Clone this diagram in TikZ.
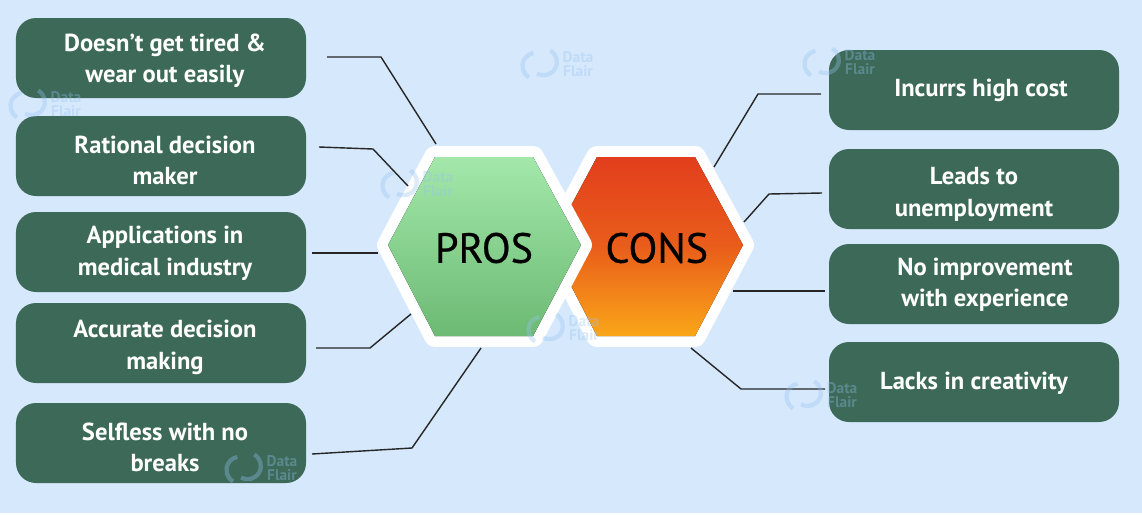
\documentclass[tikz,border=0pt]{standalone}
\usepackage{fontspec}
\setmainfont{PT Sans}
\usetikzlibrary{calc}
\definecolor{softsky}{RGB}{214,232,252}
\definecolor{boxgreen}{RGB}{60,105,88}
\definecolor{prostop}{RGB}{163,232,170}
\definecolor{prosbottom}{RGB}{108,186,116}
\definecolor{constop}{RGB}{226,62,28}
\definecolor{consbottom}{RGB}{250,166,24}
\definecolor{flairblue}{RGB}{150,195,240}
\newcommand{\pad}[2]{\hspace*{#1}\rule{0pt}{#2}}
\tikzset{
    prosbox/.style={
        draw=none,
        rounded corners=0.5cm,
        fill=boxgreen,
        text=white,
        align=center,
        font=\bfseries\fontsize{17.5}{22.5}\selectfont,
        minimum width=7.25cm,
        minimum height=2cm
    },
    hexlabel/.style={
        font=\fontsize{30}{32}\selectfont\addfontfeature{FakeBold=0.5},
        text=black
    },
    link/.style={draw=black!85, line width=1pt, line join=round},
    flairmark/.style={
        text=flairblue,
        opacity=0.35,
        align=center,
        font=\bfseries\fontsize{11}{10}\selectfont
    }
}
\begin{document}
\begin{tikzpicture}

\useasboundingbox[fill=white] (0,0) rectangle (28.55,-12.875);
\fill[softsky] (0,0) rectangle (28.55,-12.83);

% PROS BOXES
\node[prosbox] (tired) at (4.025,-1.45)
{\pad{0.2cm}{0.58cm}Doesn’t get tired \&\\\hspace*{0.2cm}wear out easily};

\node[prosbox] (rational) at (4.025,-3.9)
{\pad{0.2cm}{0.65cm}Rational decision\\\hspace*{0.2cm}maker};

\node[prosbox] (medical) at (4.025,-6.3)
{\pad{0.2cm}{0.51cm}Applications in\\\hspace*{0.2cm}medical industry};

\node[prosbox] (accurate) at (4.025,-8.575)
{\pad{0.2cm}{0.65cm}Accurate decision\\\hspace*{0.2cm}making};

\node[prosbox] (selfless) at (4.025,-11.075)
{\pad{0.2cm}{0.65cm}Selfless with no\\\hspace*{0.2cm}breaks};

% CONS BOXES
\node[prosbox] (cost) at (24.35,-2.25)
{\pad{0.35cm}{0cm}Incurrs high cost};

\node[prosbox] (unemployment) at (24.35,-4.725)
{\pad{0cm}{0.71cm}Leads to\\unemployment};

\node[prosbox] (experience) at (24.35,-7.1)
{\pad{0.55cm}{0.48cm}No improvement\\\hspace*{0.55cm}with experience};

\node[prosbox] (creativity) at (24.35,-9.55)
{\pad{0cm}{0.48cm}Lacks in creativity};

% HEXAGONS
\coordinate (consa) at (13.75,-6.125);
\coordinate (consb) at (14.925,-3.925);
\coordinate (consc) at (17.375,-3.925);
\coordinate (consd) at (18.575,-6.125);
\coordinate (conse) at (17.375,-8.4);
\coordinate (consf) at (14.925,-8.4);

\coordinate (prosa) at (9.7,-6.125);
\coordinate (prosb) at (10.875,-3.925);
\coordinate (prosc) at (13.325,-3.925);
\coordinate (prosd) at (14.525,-6.125);
\coordinate (prose) at (13.325,-8.4);
\coordinate (prosf) at (10.875,-8.4);

\draw[white, line width=15.5pt, line join=round]
    (consa) -- (consb) -- (consc) -- (consd) -- (conse) -- (consf) -- cycle;
\fill[top color=constop, bottom color=consbottom, middle color=constop!70!consbottom]
    (consa) -- (consb) -- (consc) -- (consd) -- (conse) -- (consf) -- cycle;
\draw[white, line width=15.5pt, line join=round]
    (prosa) -- (prosb) -- (prosc) -- (prosd) -- (prose) -- (prosf) -- cycle;
\fill[top color=prostop, bottom color=prosbottom]
    (prosa) -- (prosb) -- (prosc) -- (prosd) -- (prose) -- (prosf) -- cycle;

\node[hexlabel] (pros) at (12.1,-6.2) {PROS};
\node[hexlabel] (cons) at (16.42,-6.2) {CONS};

% PROS CONNECTORS
\coordinate (tiredend) at (8.175,-1.425);
\coordinate (tiredhex) at (10.9,-3.6);
\coordinate (rationalend) at (7.975,-3.675);
\coordinate (rationalhex) at (10.2,-4.65);
\coordinate (medicalend) at (7.8,-6.325);
\coordinate (medicalhex) at (9.45,-6.325);
\coordinate (accurateend) at (7.9,-8.7);
\coordinate (accuratehex) at (10.275,-7.85);
\coordinate (selflessend) at (7.8,-11.35);
\coordinate (selflesshex) at (12.025,-8.7);

\draw[link] (tiredend) -- (9.525,-1.425) -- (tiredhex);
\draw[link] (rationalend) -- (9.325,-3.725) -- (rationalhex);
\draw[link] (medicalend) -- (medicalhex);
\draw[link] (accurateend) -- (9.25,-8.7) -- (accuratehex);
\draw[link] (selflessend) -- (10.3,-11.2) -- (selflesshex);

% CONS CONNECTORS
\coordinate (costend) at (20.525,-2.35);
\coordinate (costhex) at (17.85,-4.175);
\coordinate (unemploymentend) at (20.55,-4.825);
\coordinate (unemploymenthex) at (18.6,-5.55);
\coordinate (experienceend) at (20.625,-7.275);
\coordinate (experiencehex) at (18.325,-7.275);
\coordinate (creativityend) at (20.625,-9.725);
\coordinate (creativityhex) at (17.275,-8.7);

\draw[link] (costend) -- (18.95,-2.35) -- (costhex);
\draw[link] (unemploymentend) -- (19.225,-4.85) -- (unemploymenthex);
\draw[link] (experienceend) -- (experiencehex);
\draw[link] (creativityend) -- (18.525,-9.725) -- (creativityhex);

% WATERMARKS
\foreach \name/\x/\y in {one/14.45/-1.6, two/21.5/-1.55, three/10.95/-4.6, four/1.65/-2.6, five/14.6/-8.2, six/7.05/-11.7, seven/21.05/-9.87}
{
    \node[flairmark] (mark\name) at (\x,\y) {Data\\Flair};
    \draw[flairblue, line width=3pt, opacity=0.35] ($(mark\name.west)+(-0.185,0.336)$) arc (60:-120:0.33);
    \draw[flairblue, line width=3pt, opacity=0.35] ($(mark\name.west)+(-0.715,-0.336)$) arc (240:100:0.33);
}

\end{tikzpicture}
\end{document}
